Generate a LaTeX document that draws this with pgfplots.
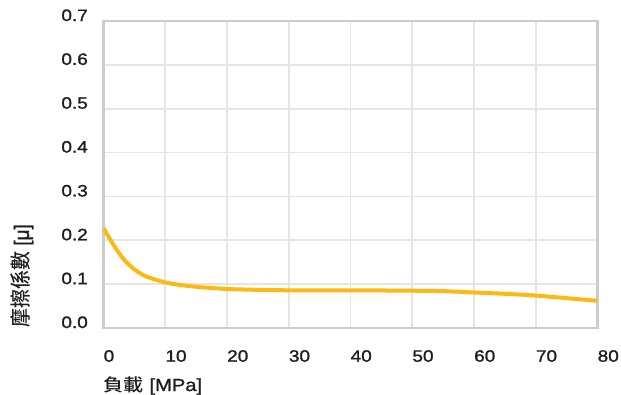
\documentclass[border=0pt]{standalone}
\usepackage{fontspec}
\usepackage{graphicx}
\usepackage{pgfplots}
\pgfplotsset{compat=1.18}
\setmainfont{Liberation Sans}[FakeStretch=1.15,FakeBold=1.3]
\newfontfamily\cjk{Noto Sans CJK TC Medium}[FakeStretch=1.15]
\newfontfamily\cjkr{Noto Sans CJK TC Medium}
\newfontfamily\latr{Liberation Sans}[FakeBold=1.3]
\definecolor{curvec}{RGB}{253,184,19}
\definecolor{gridc}{RGB}{229,229,229}
\definecolor{axc}{RGB}{204,204,204}
\definecolor{txt}{RGB}{30,30,30}
\begin{document}
\begin{tikzpicture}
\useasboundingbox (-103.5pt,-66pt) rectangle (517.5pt,328pt);
\begin{axis}[
  scale only axis, width=494pt, height=307pt,
  xmin=0, xmax=80, ymin=0, ymax=0.7,
  xtick={0,10,20,30,40,50,60,70,80},
  xticklabels={0,10,20,30,40,50,60,70,80},
  ytick={0,0.1,0.2,0.3,0.4,0.5,0.6,0.7},
  yticklabels={0.0,0.1,0.2,0.3,0.4,0.5,0.6,0.7},
  tick label style={font=\fontsize{16.5}{19}\selectfont, text=txt, inner sep=0pt},
  xticklabel style={anchor=north west, yshift=-22pt},
  yticklabel style={anchor=base east, xshift=-15.5pt},
  major tick length=0pt,
  axis line style={axc, line width=2.4pt},
  grid=major,
  major grid style={gridc, line width=1.6pt},
]
\addplot[curvec, line width=4pt, smooth] coordinates {
(0,0.228) (1.6,0.190) (3.2,0.158) (4.8,0.136) (6.4,0.121) (8,0.112) (10,0.104)
(12,0.099) (15,0.094) (20,0.089) (25,0.087) (30,0.086) (40,0.086) (50,0.085)
(55,0.084) (60,0.081) (65,0.078) (70,0.074) (75,0.068) (80,0.062)
};
\end{axis}
\node[anchor=base west, inner sep=0pt, text=txt, font=\fontsize{17.5}{20}\selectfont] at (0pt,-63pt) {{\cjk 負載} [MPa]};
\node[rotate=90, anchor=base west, inner sep=0pt, text=txt] at (-74.5pt,0pt) {\scalebox{1}[1.1]{\fontsize{19}{22}\selectfont{\cjkr 摩擦係數} \latr [μ]}};
\end{tikzpicture}
\end{document}
